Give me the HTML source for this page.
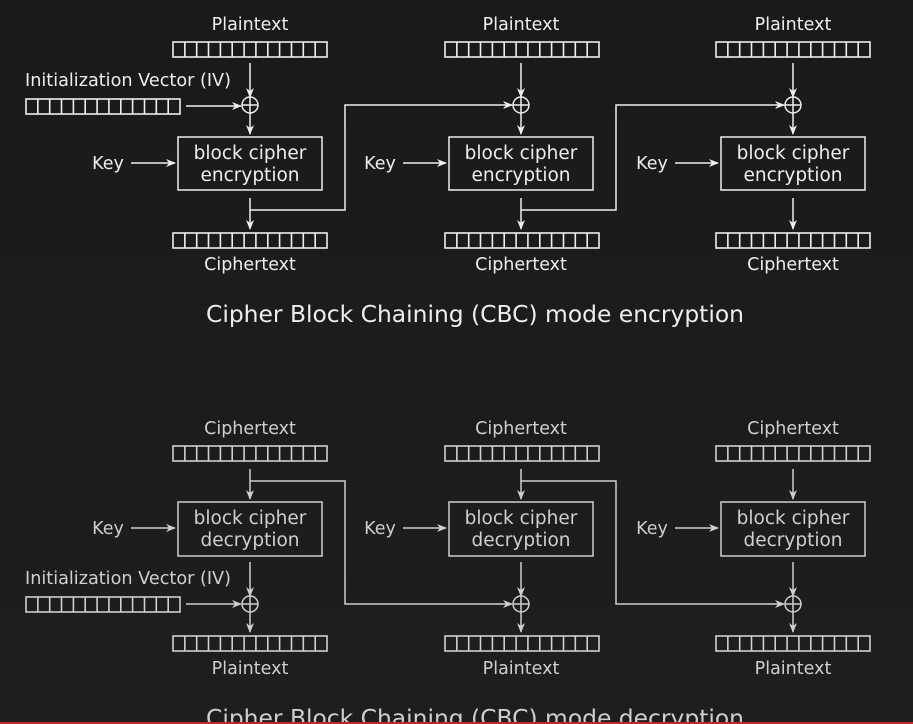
<!DOCTYPE html>
<html><head><meta charset="utf-8"><style>
html,body{margin:0;padding:0;background:#1b1b1c;}
svg{display:block;}
text{font-family:"DejaVu Sans","Liberation Sans",sans-serif;}
</style></head><body>
<svg width="913" height="724" viewBox="0 0 913 724" xmlns="http://www.w3.org/2000/svg">
<defs>
<linearGradient id="bg" x1="0" y1="0" x2="0" y2="1">
<stop offset="0" stop-color="#1a1a1a"/><stop offset="1" stop-color="#1d1e20"/>
</linearGradient>
<g id="reg" fill="none" stroke-width="1.6">
<rect x="0" y="0" width="154" height="15"/>
<path d="M11.85 0V15M23.7 0V15M35.5 0V15M47.4 0V15M59.2 0V15M71.1 0V15M82.9 0V15M94.8 0V15M106.6 0V15M118.5 0V15M130.3 0V15M142.2 0V15"/>
</g>
<g id="xor" fill="none" stroke-width="1.5">
<circle cx="0" cy="0" r="8"/><path d="M-8 0H8M0 -8V8"/>
</g>
<marker id="aw" markerWidth="10" markerHeight="8" refX="9" refY="4" orient="auto" markerUnits="userSpaceOnUse">
<path d="M0 0L10 4L0 8L3 4Z" fill="#eee"/>
</marker>
<marker id="ag" markerWidth="10" markerHeight="8" refX="9" refY="4" orient="auto" markerUnits="userSpaceOnUse">
<path d="M0 0L10 4L0 8L3 4Z" fill="#cfcfcf"/>
</marker>
</defs>
<rect width="913" height="724" fill="url(#bg)"/>

<!-- ENCRYPTION -->
<g stroke="#eeeeee" fill="#eeeeee">
<g font-size="17.5" stroke="none">
<text x="250" y="30" text-anchor="middle">Plaintext</text>
<text x="521" y="30" text-anchor="middle">Plaintext</text>
<text x="793" y="30" text-anchor="middle">Plaintext</text>
<text x="250" y="270" text-anchor="middle">Ciphertext</text>
<text x="521" y="270" text-anchor="middle">Ciphertext</text>
<text x="793" y="270" text-anchor="middle">Ciphertext</text>
<text x="25" y="86" textLength="206" lengthAdjust="spacingAndGlyphs">Initialization Vector (IV)</text>
<text x="108" y="169" text-anchor="middle">Key</text>
<text x="380" y="169" text-anchor="middle">Key</text>
<text x="652" y="169" text-anchor="middle">Key</text>
<g font-size="18.5">
<text x="250" y="159" text-anchor="middle">block cipher</text>
<text x="250" y="181" text-anchor="middle">encryption</text>
<text x="521" y="159" text-anchor="middle">block cipher</text>
<text x="521" y="181" text-anchor="middle">encryption</text>
<text x="793" y="159" text-anchor="middle">block cipher</text>
<text x="793" y="181" text-anchor="middle">encryption</text>
</g>
<text x="475" y="322" text-anchor="middle" font-size="23" textLength="538" lengthAdjust="spacingAndGlyphs">Cipher Block Chaining (CBC) mode encryption</text>
</g>
<g fill="none">
<use href="#reg" x="173" y="42"/><use href="#reg" x="445" y="42"/><use href="#reg" x="716" y="42"/>
<use href="#reg" x="173" y="233"/><use href="#reg" x="445" y="233"/><use href="#reg" x="716" y="233"/>
<use href="#reg" x="26" y="99"/>
<use href="#xor" x="250" y="105"/><use href="#xor" x="521" y="105"/><use href="#xor" x="793" y="105"/>
<rect x="178" y="137" width="144" height="53" stroke-width="1.5"/>
<rect x="449" y="137" width="144" height="53" stroke-width="1.5"/>
<rect x="721" y="137" width="144" height="53" stroke-width="1.5"/>
<g stroke-width="1.5" marker-end="url(#aw)">
<path d="M250 63V97"/><path d="M521 63V97"/><path d="M793 63V97"/>
<path d="M250 113V134"/><path d="M521 113V134"/><path d="M793 113V134"/>
<path d="M250 198V229"/><path d="M521 198V229"/><path d="M793 198V229"/>
<path d="M186 106H241"/>
<path d="M250 210H345V105H512"/><path d="M521 210H616V105H784"/>
<path d="M131 163H175"/><path d="M403 163H446"/><path d="M675 163H718"/>
</g>
</g>
</g>

<!-- DECRYPTION -->
<g stroke="#cfcfcf" fill="#cfcfcf">
<g font-size="17.5" stroke="none">
<text x="250" y="434" text-anchor="middle">Ciphertext</text>
<text x="521" y="434" text-anchor="middle">Ciphertext</text>
<text x="793" y="434" text-anchor="middle">Ciphertext</text>
<text x="250" y="674" text-anchor="middle">Plaintext</text>
<text x="521" y="674" text-anchor="middle">Plaintext</text>
<text x="793" y="674" text-anchor="middle">Plaintext</text>
<text x="25" y="584" textLength="206" lengthAdjust="spacingAndGlyphs">Initialization Vector (IV)</text>
<text x="108" y="534" text-anchor="middle">Key</text>
<text x="380" y="534" text-anchor="middle">Key</text>
<text x="652" y="534" text-anchor="middle">Key</text>
<g font-size="18.5">
<text x="250" y="524" text-anchor="middle">block cipher</text>
<text x="250" y="546" text-anchor="middle">decryption</text>
<text x="521" y="524" text-anchor="middle">block cipher</text>
<text x="521" y="546" text-anchor="middle">decryption</text>
<text x="793" y="524" text-anchor="middle">block cipher</text>
<text x="793" y="546" text-anchor="middle">decryption</text>
</g>
<text x="475" y="726" text-anchor="middle" font-size="23" textLength="538" lengthAdjust="spacingAndGlyphs">Cipher Block Chaining (CBC) mode decryption</text>
</g>
<g fill="none">
<use href="#reg" x="173" y="446"/><use href="#reg" x="445" y="446"/><use href="#reg" x="716" y="446"/>
<use href="#reg" x="173" y="636"/><use href="#reg" x="445" y="636"/><use href="#reg" x="716" y="636"/>
<use href="#reg" x="26" y="597"/>
<use href="#xor" x="250" y="604"/><use href="#xor" x="521" y="604"/><use href="#xor" x="793" y="604"/>
<rect x="178" y="502" width="144" height="54" stroke-width="1.5"/>
<rect x="449" y="502" width="144" height="54" stroke-width="1.5"/>
<rect x="721" y="502" width="144" height="54" stroke-width="1.5"/>
<g stroke-width="1.5" marker-end="url(#ag)">
<path d="M250 469V499"/><path d="M521 469V499"/><path d="M793 469V499"/>
<path d="M250 562V596"/><path d="M521 562V596"/><path d="M793 562V596"/>
<path d="M250 612V632"/><path d="M521 612V632"/><path d="M793 612V632"/>
<path d="M186 604H241"/>
<path d="M250 481H345V604H512"/><path d="M521 481H616V604H784"/>
<path d="M131 528H175"/><path d="M403 528H446"/><path d="M675 528H718"/>
</g>
</g>
</g>
<rect x="0" y="722" width="913" height="2" fill="#c0282a"/>
</svg>
</body></html>
